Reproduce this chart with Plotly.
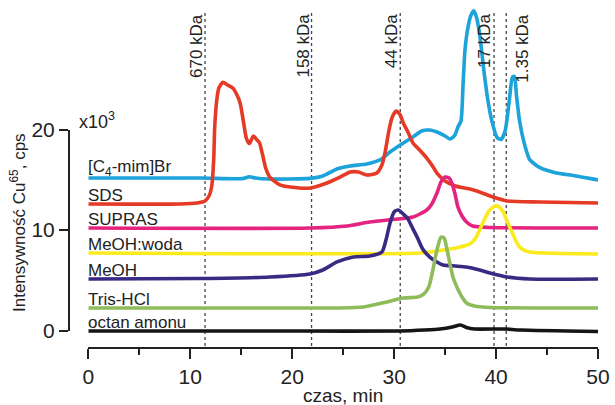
import plotly.graph_objects as go

# ---------------- data (time in min, intensity in 10^3 cps) ----------------
blue_t = [0, 10.96, 15.2, 15.8, 16.4, 17.8, 21.75, 23.0, 24.4, 25.7, 27.3, 28.6, 29.6, 30.9, 31.85,
          32.7, 33.5, 34.2, 35.0, 35.5, 35.97, 36.26, 36.56, 36.76, 36.95, 37.25, 37.55, 37.84, 38.1,
          38.4, 38.8, 39.2, 39.6, 40.1, 40.5, 40.9, 41.3, 41.6, 41.8, 42.0, 42.3, 42.8, 43.3, 44.3,
          45.8, 47.7, 50]
blue_y = [15.17, 15.17, 15.12, 15.3, 15.17, 15.07, 15.14, 15.37, 16.07, 16.37, 16.57, 16.97, 17.76,
          18.66, 19.25, 19.85, 19.95, 19.75, 19.35, 19.05, 19.45, 20.25, 20.85, 24.4, 27.9, 30.2,
          31.4, 31.8, 31.1, 29.4, 25.9, 22.9, 20.8, 19.2, 19.0, 19.9, 22.9, 25.2, 25.3, 23.4, 20.9,
          18.5, 17.0, 16.2, 15.7, 15.4, 14.98]

red_t = [0, 9.0, 10.66, 11.45, 11.84, 12.1, 12.3, 12.4, 12.6, 12.8, 13.2, 13.7, 14.2, 14.6, 14.9,
         15.2, 15.5, 15.8, 16.2, 16.55, 16.8, 17.1, 17.4, 17.8, 18.8, 19.8, 21.75, 23.4, 24.7, 25.7,
         26.5, 27.3, 28.3, 28.8, 29.1, 29.5, 29.8, 30.2, 30.6, 30.9, 31.4, 31.85, 32.5, 33.2, 33.7,
         34.2, 35.0, 36.0, 37.8, 38.9, 39.7, 41.1, 44.3, 50]
red_y = [12.59, 12.59, 12.69, 12.89, 13.38, 14.3, 16.97, 20.25, 22.9, 24.1, 24.7, 24.4, 24.1, 23.4,
         22.6, 20.9, 19.15, 18.6, 19.35, 18.96, 18.66, 17.46, 16.17, 15.27, 14.48, 14.28, 14.18,
         14.68, 15.27, 15.77, 15.77, 15.47, 15.67, 16.47, 17.66, 19.95, 21.2, 21.84, 21.44, 20.65,
         19.65, 18.66, 17.96, 17.16, 16.47, 15.67, 14.88, 14.38, 13.98, 13.58, 13.28, 12.89, 12.79,
         12.69]

mag_t = [0, 21.75, 25.4, 27.6, 30.3, 31.85, 33.2, 33.7, 34.2, 34.6, 35.0, 35.4, 35.7, 36.0, 36.26,
         36.66, 37.1, 37.7, 39.4, 50]
mag_y = [10.2, 10.2, 10.4, 10.8, 11.09, 11.29, 11.99, 12.59, 13.68, 14.78, 15.27, 15.17, 14.58,
         13.48, 12.29, 11.39, 10.8, 10.4, 10.25, 10.2]

yel_t = [0, 32.5, 34.5, 36.5, 37.5, 38.0, 38.7, 39.3, 39.9, 40.3, 40.7, 41.2, 41.6, 42.0, 42.4, 43.3,
         44.8, 50]
yel_y = [7.71, 7.71, 7.96, 8.31, 8.66, 9.2, 10.7, 11.9, 12.39, 12.29, 11.79, 10.6, 9.7, 8.8, 8.21,
         7.81, 7.71, 7.61]

pur_t = [0, 10.97, 17.8, 21.75, 23.0, 24.4, 26.0, 27.6, 28.8, 29.2, 29.6, 30.0, 30.4, 30.8, 31.3,
         31.8, 32.3, 32.8, 33.5, 34.2, 34.8, 35.97, 37.1, 38.4, 39.4, 41.1, 43.3, 50]
pur_y = [5.12, 5.17, 5.32, 5.62, 6.02, 6.82, 7.31, 7.41, 7.81, 9.0, 10.7, 11.79, 11.99, 11.69, 11.19,
         10.2, 9.2, 8.11, 7.31, 6.82, 6.52, 6.42, 6.32, 6.02, 5.72, 5.32, 5.12, 5.12]

grn_t = [0, 24.7, 27.0, 29.3, 30.9, 32.3, 32.9, 33.4, 33.8, 34.2, 34.6, 34.9, 35.2, 35.5, 35.8, 36.2,
         36.66, 37.1, 37.9, 39.4, 50]
grn_y = [2.24, 2.24, 2.34, 2.84, 3.23, 3.33, 3.63, 4.33, 6.02, 8.01, 9.3, 9.2, 8.01, 6.52, 5.22,
         4.23, 3.33, 2.74, 2.44, 2.29, 2.24]

blk_t = [0, 20.8, 30.6, 33.0, 34.5, 35.7, 36.5, 37.1, 37.9, 39.9, 40.9, 42.4, 50]
blk_y = [-0.05, -0.05, -0.05, 0.05, 0.15, 0.35, 0.55, 0.3, 0.15, 0.15, 0.15, 0.05, -0.1]

series_names = ["[C<sub>4</sub>-mim]Br", "SDS", "SUPRAS", "MeOH:woda", "MeOH", "Tris-HCl", "octan amonu"]
series_t = [blue_t, red_t, mag_t, yel_t, pur_t, grn_t, blk_t]
series_y = [blue_y, red_y, mag_y, yel_y, pur_y, grn_y, blk_y]
series_base = [15.17, 12.59, 10.2, 7.71, 5.12, 2.24, -0.05]
series_colors = ["#1BA3DA", "#E53A26", "#E5247F", "#FBEA1D", "#3B2A84", "#8FBC5B", "#151515"]

marker_t = [11.45, 21.9, 30.6, 39.8, 41.0]
marker_labels = ["670 kDa", "158 kDa", "44 kDa", "17 kDa", "1.35 kDa"]
marker_shift = [-9, -9, -9, -10, 16]

x_ticks = [0, 10, 20, 30, 40, 50]
y_ticks = [0, 10, 20]

FONT = "Liberation Sans, Arial, sans-serif"
TXT = "#222222"
W, H = 615, 405

fig = go.Figure()

# dotted molecular-weight markers
for t in marker_t:
    fig.add_shape(type="line", xref="x", yref="paper", x0=t, x1=t,
                  y0=(H - 346) / H, y1=(H - 13) / H,
                  line=dict(color="#444444", width=1.3, dash="dot"), layer="below")

for t, y, c in zip(series_t, series_y, series_colors):
    fig.add_trace(go.Scatter(x=t, y=y, mode="lines",
                             line=dict(color=c, width=3.6, shape="spline", smoothing=0.6),
                             showlegend=False, hoverinfo="skip", xaxis="x", yaxis="y"))

# dummy trace to show the scale axis
fig.add_trace(go.Scatter(x=[None], y=[None], xaxis="x", yaxis="y2", showlegend=False,
                         hoverinfo="skip"))

for name, b in zip(series_names, series_base):
    fig.add_annotation(x=0, y=b, xref="x", yref="y", text=name, showarrow=False,
                       xanchor="left", yanchor="bottom", xshift=-2, yshift=-3,
                       font=dict(family=FONT, size=17, color=TXT))

for t, lab, s in zip(marker_t, marker_labels, marker_shift):
    fig.add_annotation(x=t, y=(H - 12) / H, xref="x", yref="paper", text=lab, showarrow=False,
                       textangle=-90, xanchor="center", yanchor="top", xshift=s,
                       font=dict(family=FONT, size=17, color=TXT))

fig.add_annotation(x=97 / W, y=(H - 121) / H, xref="paper", yref="paper", text="x10<sup>3</sup>",
                   showarrow=False, xanchor="center", yanchor="middle",
                   font=dict(family=FONT, size=18, color=TXT))
fig.add_annotation(x=18 / W, y=(H - 223) / H, xref="paper", yref="paper",
                   text="Intensywność Cu<sup>65</sup>, cps", showarrow=False, textangle=-90,
                   xanchor="center", yanchor="middle", font=dict(family=FONT, size=17, color=TXT))
fig.add_annotation(x=343 / W, y=(H - 395) / H, xref="paper", yref="paper", text="czas, min",
                   showarrow=False, xanchor="center", yanchor="middle",
                   font=dict(family=FONT, size=19, color=TXT))

y0px, ppu = 330.5, 10.05
fig.update_layout(
    template="none",
    width=W, height=H, margin=dict(l=0, r=0, t=0, b=0, autoexpand=False),
    paper_bgcolor="white", plot_bgcolor="rgba(0,0,0,0)",
    xaxis=dict(domain=[88.3 / W, 598 / W], range=[0, 50], tickvals=x_ticks, automargin=False,
               showgrid=False, zeroline=False, showline=True, linecolor="#222", linewidth=2,
               ticks="outside", ticklen=10, tickwidth=2, tickcolor="#222",
               minor=dict(dtick=5, ticks="outside", ticklen=6, tickwidth=2, tickcolor="#222",
                          showgrid=False),
               tickfont=dict(family=FONT, size=21, color=TXT), anchor="y"),
    yaxis=dict(domain=[(H - 347) / H, 1], automargin=False,
               range=[(y0px - 347) / ppu, y0px / ppu],
               visible=False, showgrid=False, zeroline=False),
    yaxis2=dict(domain=[(H - y0px) / H, (H - (y0px - 20 * ppu)) / H], range=[0, 20],
                tickvals=y_ticks, anchor="free", position=69 / W, automargin=False,
                showgrid=False, zeroline=False, showline=True, linecolor="#222", linewidth=2,
                ticks="outside", ticklen=9, tickwidth=2, tickcolor="#222",
                tickfont=dict(family=FONT, size=21, color=TXT)),
)

fig.write_html("out.html")
